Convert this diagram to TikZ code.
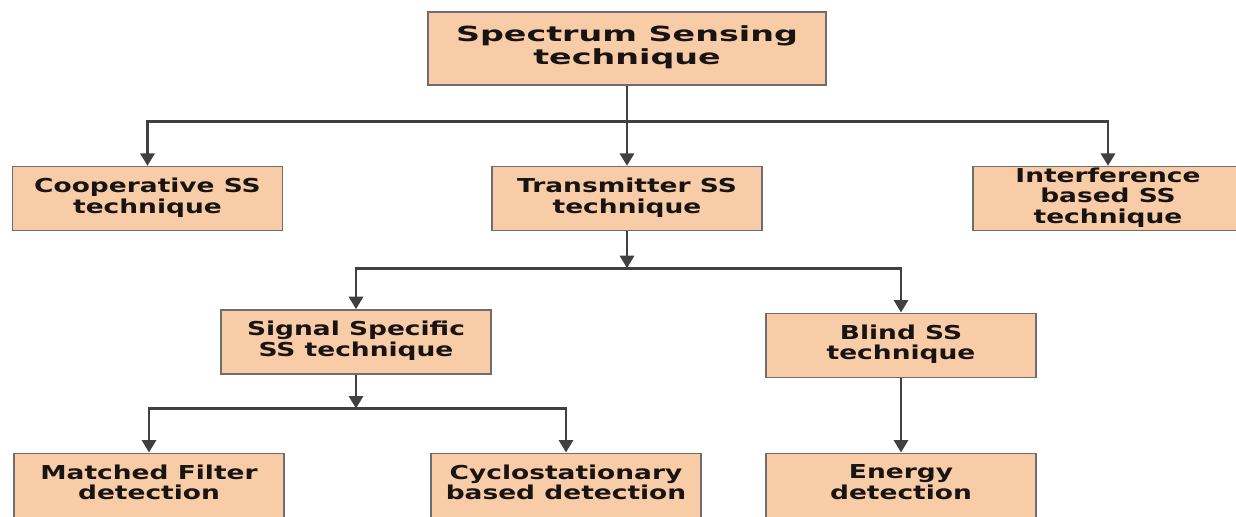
\documentclass[tikz,border=0pt]{standalone}
\usepackage{fontspec}
\newfontfamily\boxfont[FakeStretch=1.38]{DejaVu Sans}
\newfontfamily\rootfont[FakeStretch=1.6]{DejaVu Sans}
\usepackage{tikz}
\usetikzlibrary{arrows.meta,positioning}
\definecolor{boxfill}{RGB}{248,204,166}
\definecolor{boxline}{RGB}{110,110,110}
\definecolor{wiregray}{RGB}{64,64,64}
\definecolor{ink}{RGB}{25,20,20}

\begin{document}
\begin{tikzpicture}[
    auto,
    node distance=86pt,
    >={Triangle[width=8.5pt,length=7.5pt]},
    tech/.style={
		rectangle,
		draw=boxline,
		line width=0.8pt,
		fill=boxfill,
		text=ink,
		text centered,
		minimum width=162pt,
		minimum height=38.4pt,
		inner sep=0pt,
		font=\boxfont\bfseries\fontsize{11.5}{12}\selectfont
	},
	root/.style={
		tech,
		minimum width=238.8pt,
		minimum height=43.8pt,
		font=\rootfont\bfseries\fontsize{12.5}{13.8}\selectfont
	},
	wire/.style={
		draw=wiregray,
		line width=1.6pt
	}
  ]
  \path [use as bounding box] (0,0) rectangle (741.6pt,-310.2pt);
  \clip (0,0) rectangle (741.6pt,-310.2pt);

    % We start by placing the blocks
  \node [root] (sst) at (376.2pt,-29.1pt)
 {%
 \begin{tabular}{c}
  Spectrum Sensing\\
  technique
 \end{tabular}
 };

  \node [tech, below of=sst, yshift=-4pt, xshift=-287.7pt] (coop)
 {%
 \begin{tabular}{c}
  Cooperative SS\\
  technique
 \end{tabular}
 };

  \node [tech, below of=sst, yshift=-4pt] (trans)
 {%
 \begin{tabular}{c}
  Transmitter SS\\
  technique
 \end{tabular}
 };

  \node [tech, below of=sst, yshift=-4pt, xshift=288.6pt] (interf)
 {%
 \begin{tabular}{c}
  Interference\\
  based SS\\
  technique
 \end{tabular}
 };

  \node [tech, below of=trans, xshift=-162.6pt] (sigss)
 {%
 \begin{tabular}{c}
  Signal Specific\\
  SS technique
 \end{tabular}
 };

  \node [tech, below of=trans, yshift=-2pt, xshift=164.4pt] (blind)
 {%
 \begin{tabular}{c}
  Blind SS\\
  technique
 \end{tabular}
 };

  \node [tech, below of=sigss, xshift=-124.2pt] (matched)
 {%
 \begin{tabular}{c}
  Matched Filter\\
  detection
 \end{tabular}
 };

  \node [tech, below of=sigss, xshift=126pt] (cyclo)
 {%
 \begin{tabular}{c}
  Cyclostationary\\
  based detection
 \end{tabular}
 };

  \node [tech, below of=blind, yshift=2pt] (energy)
 {%
 \begin{tabular}{c}
  Energy\\
  detection
 \end{tabular}
 };

 % branch points
 \coordinate (bus1) at ([yshift=-21.6pt]sst.south);
 \coordinate (bus2) at ([yshift=-22.2pt]trans.south);
 \coordinate (bus3) at ([yshift=-20.4pt]sigss.south);

 \draw [wire,->] (sst) -- (trans);
 \draw [wire,->] (bus1) -| (coop);
 \draw [wire,->] (bus1) -| (interf);
 \draw [wire,->] (trans) -- (bus2);
 \draw [wire,->] (bus2) -| (sigss);
 \draw [wire,->] (bus2) -| (blind);
 \draw [wire,->] (sigss) -- (bus3);
 \draw [wire,->] (bus3) -| (matched);
 \draw [wire,->] (bus3) -| (cyclo);
 \draw [wire,->] (blind) -- (energy);

\end{tikzpicture}
\end{document}
